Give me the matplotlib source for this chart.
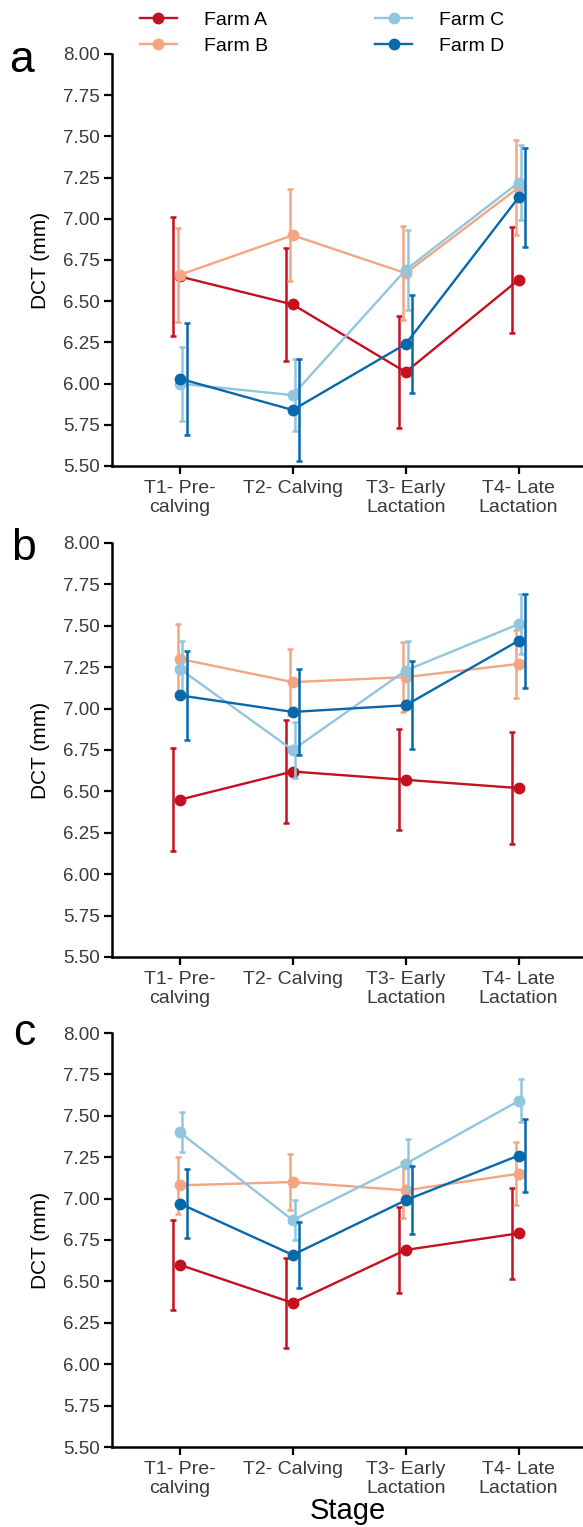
import numpy as np
import matplotlib
matplotlib.use("Agg")
import matplotlib.pyplot as plt
from matplotlib.lines import Line2D


plt.rcParams["font.family"] = ["Liberation Sans", "DejaVu Sans"]

STAGES = ["T1- Pre-\ncalving", "T2- Calving", "T3- Early\nLactation", "T4- Late\nLactation"]
FARMS = ["Farm A", "Farm B", "Farm C", "Farm D"]
COLORS = ["#C4101F", "#F4A582", "#92C5DE", "#0868AC"]
PANELS = ["a", "b", "c"]
YTICKS = [5.50, 5.75, 6.00, 6.25, 6.50, 6.75, 7.00, 7.25, 7.50, 7.75, 8.00]

# mean DCT per farm (rows: Farm A..D, columns: T1..T4)
mean_a = [
    [6.65, 6.48, 6.07, 6.63],
    [6.66, 6.90, 6.67, 7.19],
    [6.00, 5.93, 6.69, 7.22],
    [6.03, 5.84, 6.24, 7.13],
]
err_a = [
    [0.36, 0.345, 0.34, 0.32],
    [0.285, 0.28, 0.285, 0.29],
    [0.225, 0.22, 0.245, 0.23],
    [0.34, 0.31, 0.30, 0.30],
]

mean_b = [
    [6.45, 6.62, 6.57, 6.52],
    [7.30, 7.16, 7.19, 7.27],
    [7.24, 6.75, 7.23, 7.51],
    [7.08, 6.98, 7.02, 7.41],
]
err_b = [
    [0.31, 0.31, 0.305, 0.34],
    [0.21, 0.20, 0.21, 0.205],
    [0.17, 0.17, 0.18, 0.18],
    [0.27, 0.26, 0.265, 0.285],
]

mean_c = [
    [6.60, 6.37, 6.69, 6.79],
    [7.08, 7.10, 7.05, 7.15],
    [7.40, 6.87, 7.21, 7.59],
    [6.97, 6.66, 6.99, 7.26],
]
err_c = [
    [0.27, 0.27, 0.26, 0.275],
    [0.17, 0.17, 0.17, 0.19],
    [0.12, 0.12, 0.15, 0.13],
    [0.21, 0.20, 0.205, 0.22],
]

# horizontal dodge of the error bars only (markers sit on the category)
DODGE = [-0.06, -0.02, 0.02, 0.06]

W, H = 583, 1527
fig = plt.figure(figsize=(W / 100, H / 100), dpi=100)

# axes boxes in pixels: (top, bottom), panel letter (x, baseline)
boxes = [(54, 466), (543, 957), (1033, 1447)]
letter_pos = [(9, 72), (11, 560), (13, 1045)]
left_px, right_px = 112, 583

x = np.arange(len(STAGES))
axes = []
for (top, bottom), (lx, ly), letter, means, errs in zip(
    boxes, letter_pos, PANELS, [mean_a, mean_b, mean_c], [err_a, err_b, err_c]
):
    ax = fig.add_axes([left_px / W, 1 - bottom / H, (right_px - left_px) / W, (bottom - top) / H])
    axes.append(ax)

    for i, (m, e, col) in enumerate(zip(means, errs, COLORS)):
        ax.errorbar(x + DODGE[i], m, yerr=e, fmt="none", ecolor=col,
                    elinewidth=1.8, capsize=2.2, capthick=1.8, zorder=2 + i)
        ax.plot(x, m, color=col, lw=1.7, marker="o", ms=7.5, zorder=3 + i)

    ax.set_ylim(5.5, 8.0)
    ax.set_xlim(-0.6, 3.57)
    ax.set_yticks(YTICKS)
    ax.set_yticklabels([f"{v:.2f}" for v in YTICKS])
    ax.set_xticks(x)
    ax.set_xticklabels(STAGES)
    ax.set_ylabel("DCT (mm)", fontsize=15, labelpad=9)

    for side in ["top", "right"]:
        ax.spines[side].set_visible(False)
    for side in ["left", "bottom"]:
        ax.spines[side].set_linewidth(1.8)
    ax.tick_params(axis="both", direction="out", length=6, width=1.6, colors="black")
    ax.tick_params(axis="y", labelsize=13.5, labelcolor="#3a3a3a", pad=3)
    ax.tick_params(axis="x", labelsize=14, labelcolor="#3a3a3a", pad=4)

    fig.text(lx / W, 1 - ly / H, letter, fontsize=32, va="baseline", ha="left")

axes[-1].set_xlabel("Stage", fontsize=21, labelpad=0)

handles = [
    Line2D([], [], color=c, lw=1.7, marker="o", ms=7.5) for c in COLORS
]
fig.legend(handles, FARMS, loc="upper left", bbox_to_anchor=(140 / W, 1 - 11 / H),
           ncol=2, frameon=False, fontsize=14, handlelength=1.9, handletextpad=1.4,
           columnspacing=5.5, labelspacing=0.45, borderpad=0, borderaxespad=0)

fig.savefig("out.png", dpi=100)
